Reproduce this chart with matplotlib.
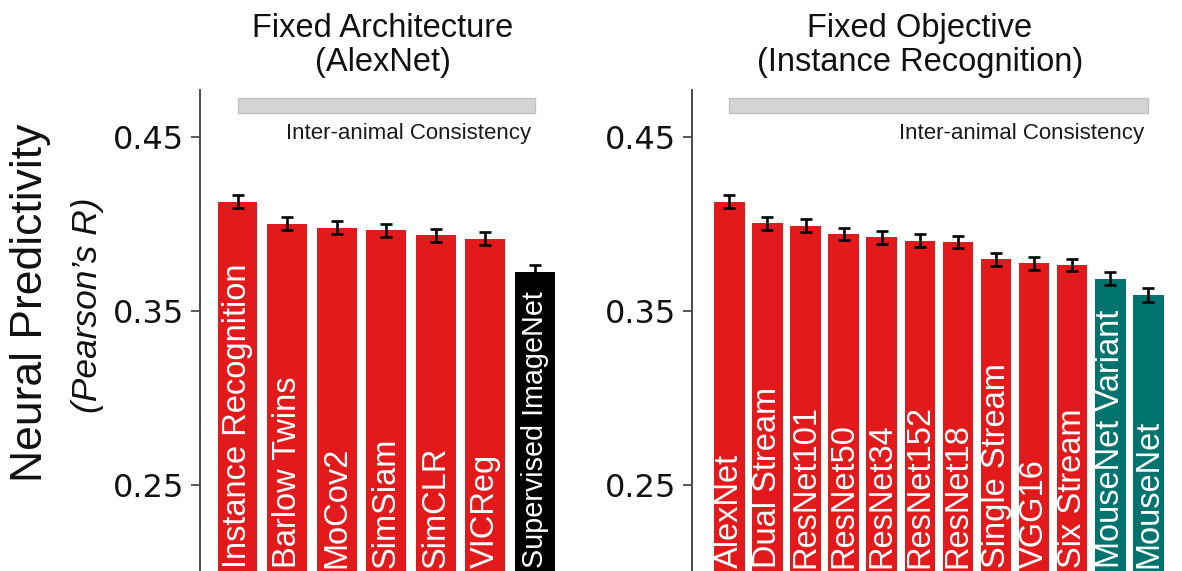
import matplotlib
matplotlib.use("Agg")
import matplotlib.pyplot as plt

# ---- data -------------------------------------------------------------
arch_labels = ["Instance Recognition", "Barlow Twins", "MoCov2", "SimSiam",
               "SimCLR", "VICReg", "Supervised ImageNet"]
arch_values = [0.4127, 0.3999, 0.3977, 0.3962, 0.3934, 0.3914, 0.3721]
arch_errors = [0.0038, 0.0038, 0.0038, 0.0038, 0.0038, 0.0038, 0.0042]
arch_colors = ["#e31a1c"] * 6 + ["#000000"]

obj_labels = ["AlexNet", "Dual Stream", "ResNet101", "ResNet50", "ResNet34",
              "ResNet152", "ResNet18", "Single Stream", "VGG16", "Six Stream",
              "MouseNet Variant", "MouseNet"]
obj_values = [0.4127, 0.4003, 0.3989, 0.3941, 0.3922, 0.3903, 0.3895,
              0.3796, 0.3773, 0.3763, 0.3683, 0.3591]
obj_errors = [0.0038, 0.0038, 0.0036, 0.0037, 0.0036, 0.0036, 0.0036,
              0.0037, 0.0037, 0.0037, 0.0037, 0.0039]
obj_colors = ["#e31a1c"] * 10 + ["#00736e"] * 2

consistency_band = (0.4634, 0.4721)
yticks = [0.25, 0.35, 0.45]
ylims = (0.2005, 0.4768)

titles = [("Fixed Architecture", "(AlexNet)"),
          ("Fixed Objective", "(Instance Recognition)")]

# ---- figure -----------------------------------------------------------
W, H = 1182, 571
fig = plt.figure(figsize=(W / 100, H / 100), dpi=100)

SANS = ["Liberation Sans", "DejaVu Sans"]
SPINE = "#4a4a4a"
LABEL_SIZE = 23.5
LABEL_GAP_PX = 20  # space kept between a bar label and the bar top


def fx(px):
    return px / W


def fy(py):
    return 1 - py / H


def panel(rect, xlim, labels, values, errors, colors):
    ax = fig.add_axes(rect)
    x = list(range(len(labels)))
    ax.bar(x, values, width=0.8, color=colors, zorder=2)
    ax.errorbar(x, values, yerr=errors, fmt="none", ecolor="black",
                elinewidth=1.9, capsize=4.4, capthick=1.9, zorder=3)
    ax.fill_between([0, len(labels) - 1], consistency_band[0],
                    consistency_band[1], facecolor="#d4d4d4",
                    edgecolor="#c2c2c2", linewidth=1.0, zorder=1)
    ax.annotate("Inter-animal Consistency", xy=(len(labels) - 1, 0.4487),
                xytext=(-3, 0), textcoords="offset points",
                ha="right", va="baseline", fontsize=16, family=SANS,
                color="#1a1a1a")
    ax.set_xlim(*xlim)
    ax.set_ylim(*ylims)
    ax.set_yticks(yticks)
    ax.set_yticklabels([f"{t:.2f}" for t in yticks])
    ax.set_xticks([])
    for side in ("top", "right", "bottom"):
        ax.spines[side].set_visible(False)
    ax.spines["left"].set_color(SPINE)
    ax.spines["left"].set_linewidth(1.4)
    ax.tick_params(axis="y", direction="out", length=6.5, width=1.3,
                   color=SPINE, pad=5, labelsize=23, labelcolor="#111111")
    for lab in ax.get_yticklabels():
        lab.set_family("DejaVu Sans")

    # white names written up inside each bar, shrunk if they run past the top
    renderer = fig.canvas.get_renderer()
    for i, (name, val) in enumerate(zip(labels, values)):
        t = ax.annotate(name, xy=(i, ylims[0]), xytext=(0, 2),
                        textcoords="offset points", rotation=90,
                        ha="center", va="bottom", color="white",
                        fontsize=LABEL_SIZE, family=SANS, zorder=4)
        top_px = ax.transData.transform((i, val))[1] - LABEL_GAP_PX
        ext = t.get_window_extent(renderer)
        if ext.y1 > top_px:
            t.set_fontsize(LABEL_SIZE * (top_px - ext.y0) / ext.height)
    return ax


ax1 = panel([fx(200), 0, fx(366), 481 / H], (-0.76, 6.63),
            arch_labels, arch_values, arch_errors, arch_colors)
ax2 = panel([fx(692), 0, fx(480), 481 / H], (-0.98, 11.62),
            obj_labels, obj_values, obj_errors, obj_colors)

# panel titles
for cx, (l1, l2) in zip((383, 920), titles):
    fig.text(fx(cx), fy(37), l1, ha="center", va="baseline",
             fontsize=23.5, family=SANS, color="#111111")
    fig.text(fx(cx), fy(71), l2, ha="center", va="baseline",
             fontsize=23.5, family=SANS, color="#111111")

# shared y-axis label
fig.text(fx(31), fy(303), "Neural Predictivity", rotation=90,
         ha="center", va="center", fontsize=32, family=SANS, color="#111111")
fig.text(fx(88), fy(305), "(Pearson\u2019s R)", rotation=90,
         ha="center", va="center", fontsize=25.5, family=SANS,
         style="italic", color="#111111")

fig.savefig("out.png", dpi=100)
